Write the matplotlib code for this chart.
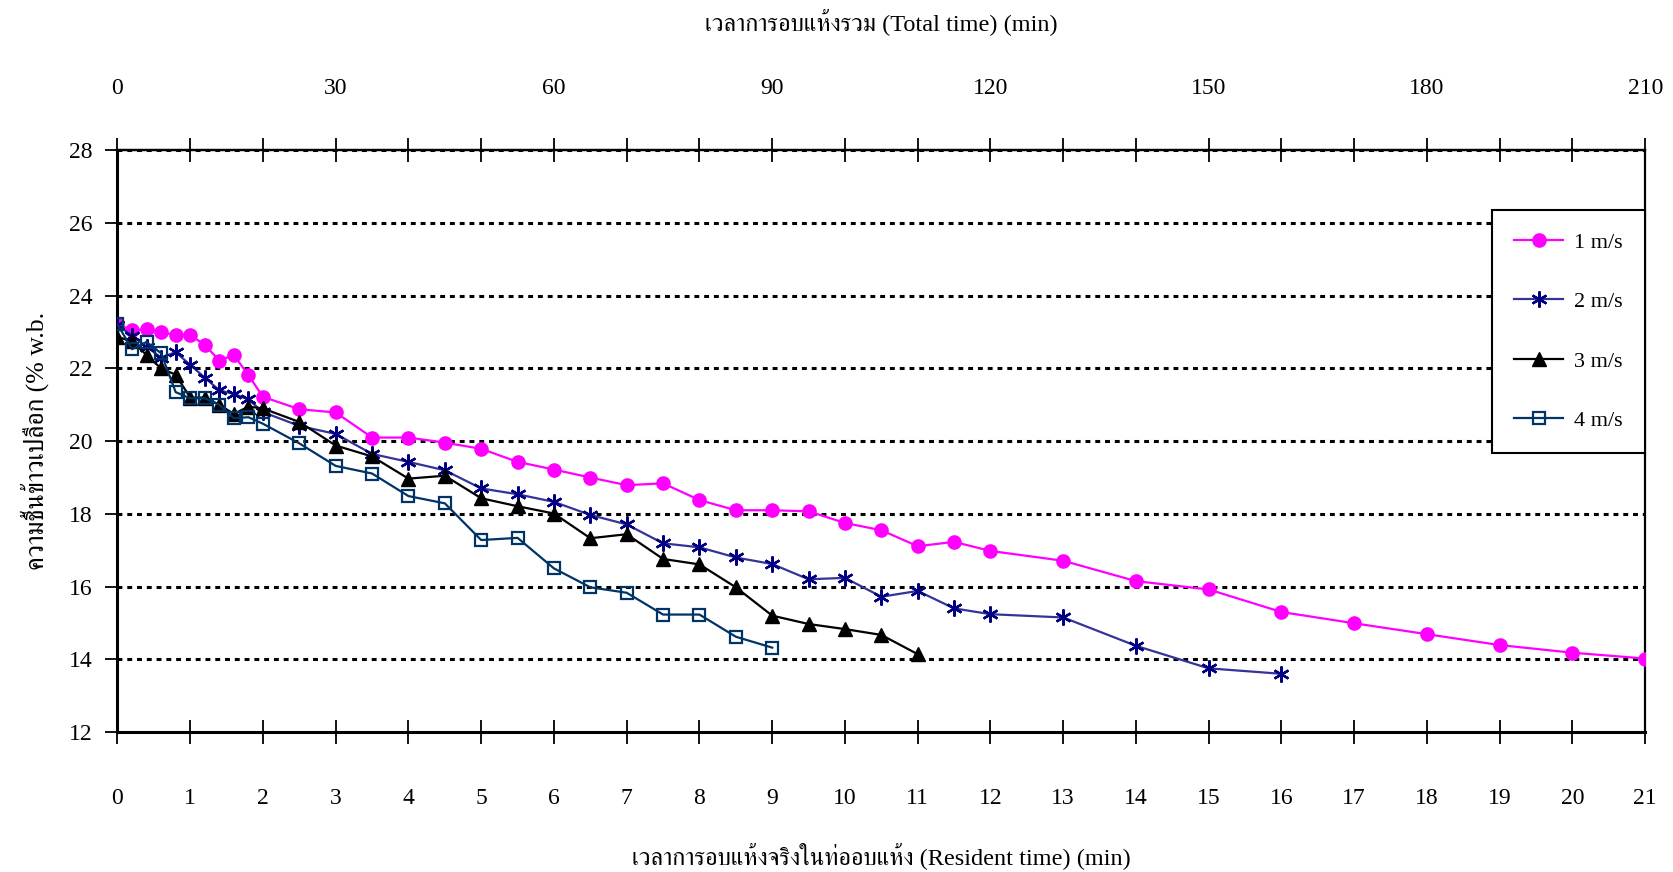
import matplotlib
matplotlib.use("Agg")
import matplotlib.pyplot as plt
from matplotlib import font_manager
from matplotlib.ft2font import FT2Font

# ---- data: grain moisture (% w.b.) vs. resident time in the dryer (min) ----
t_fine = [0, 0.2, 0.4, 0.6, 0.8, 1.0, 1.2, 1.4, 1.6, 1.8, 2.0]
t_half = [2.5, 3, 3.5, 4, 4.5, 5, 5.5, 6, 6.5, 7, 7.5, 8, 8.5, 9,
          9.5, 10, 10.5, 11, 11.5, 12]
t_long = [13, 14, 15, 16, 17, 18, 19, 20, 21]

time_1 = t_fine + t_half + t_long
moist_1 = [23.22, 23.05, 23.08, 23.0, 22.92, 22.92, 22.65, 22.22, 22.37, 21.82, 21.22,
           20.88, 20.79, 20.1, 20.1, 19.96, 19.79, 19.43, 19.22, 19.0, 18.79, 18.84,
           18.38, 18.1, 18.1, 18.07, 17.75, 17.55, 17.11, 17.23, 16.98,
           16.71, 16.15, 15.92, 15.3, 14.99, 14.69, 14.39, 14.18, 14.02]

time_2 = t_fine + t_half + [13, 14, 15, 16]
moist_2 = [23.2, 22.9, 22.6, 22.3, 22.45, 22.1, 21.75, 21.4, 21.3, 21.15, 20.8,
           20.42, 20.2, 19.65, 19.43, 19.2, 18.7, 18.54, 18.33, 17.97, 17.71, 17.19,
           17.08, 16.8, 16.62, 16.2, 16.24, 15.72, 15.88, 15.4, 15.24,
           15.15, 14.37, 13.75, 13.6]

time_3 = t_fine + t_half[:18]
moist_3 = [22.87, 22.75, 22.37, 22.0, 21.83, 21.2, 21.2, 21.0, 20.75, 20.95, 20.9,
           20.53, 19.88, 19.58, 18.97, 19.05, 18.43, 18.21, 18.01, 17.33, 17.44, 16.76,
           16.61, 15.98, 15.2, 14.97, 14.83, 14.67, 14.14]

time_4 = t_fine + t_half[:14]
moist_4 = [23.22, 22.53, 22.73, 22.42, 21.35, 21.18, 21.18, 21.0, 20.63, 20.66, 20.48,
           19.94, 19.32, 19.11, 18.49, 18.29, 17.28, 17.34, 16.5, 15.98, 15.83, 15.23,
           15.23, 14.62, 14.32]

labels = ["1 m/s", "2 m/s", "3 m/s", "4 m/s"]
bottom_ticks = list(range(0, 22))
top_ticks = list(range(0, 211, 30))
y_ticks = list(range(12, 29, 2))

title_top = "เวลาการอบแห้งรวม (Total time) (min)"
title_bottom = "เวลาการอบแห้งจริงในท่ออบแห้ง (Resident time) (min)"
title_y = "ความชื้นข้าวเปลือก (% w.b."


def find_thai_family():
    """Return the name of an installed font that covers Thai script."""
    preferred = []
    others = []
    for fe in font_manager.fontManager.ttflist:
        try:
            cmap = FT2Font(fe.fname).get_charmap()
        except Exception:
            continue
        if 0x0E01 in cmap and 0x0E49 in cmap:
            if any(k in fe.name for k in ("Norasi", "Serif", "Tlwg Typo", "Kinnari")):
                preferred.append(fe.name)
            else:
                others.append(fe.name)
    for group in (preferred, others):
        if group:
            return group[0]
    return None


thai = find_thai_family()
serif = "Liberation Serif"
fam = [serif] + ([thai] if thai else []) + ["DejaVu Sans"]

fig = plt.figure(figsize=(16.73, 8.72), dpi=100)
ax = fig.add_axes([0.0702, 0.1606, 0.9132, 0.6669])

ax.plot(time_1, moist_1, color="#FF00FF", lw=1.6, marker="o", ms=9.5,
        mfc="#FF00FF", mec="#FF00FF", label=labels[0], zorder=3)
ax.plot(time_2, moist_2, color="#333399", lw=1.6, marker=(6, 2, 0), ms=11.5,
        mec="#000080", mew=1.7, label=labels[1], zorder=4)
ax.plot(time_3, moist_3, color="#000000", lw=1.6, marker="^", ms=9.5,
        mfc="#000000", mec="#000000", label=labels[2], zorder=5)
ax.plot(time_4, moist_4, color="#003366", lw=1.6, marker="s", ms=8.5,
        mfc="none", mec="#003366", mew=1.6, label=labels[3], zorder=6)

ax.set_xlim(0, 21)
ax.set_ylim(12, 28)
ax.set_xticks(bottom_ticks)
ax.set_yticks(y_ticks)

for y in y_ticks[1:]:
    ax.axhline(y, color="black", lw=2.2, linestyle=(0, (1.6, 1.6)), zorder=1)

for side in ("left", "bottom"):
    ax.spines[side].set_linewidth(2.2)
for side in ("top", "right"):
    ax.spines[side].set_linewidth(1.6)

ax.tick_params(axis="x", direction="inout", length=17, width=1.3, pad=32,
               labelsize=17)
ax.tick_params(axis="y", direction="out", length=9, width=1.3, pad=9,
               labelsize=17)
for lab in ax.get_xticklabels() + ax.get_yticklabels():
    lab.set_fontfamily(serif)

top = ax.secondary_xaxis("top", functions=(lambda x: x * 10, lambda x: x / 10))
top.set_xticks(top_ticks)
top.set_xticks(list(range(0, 211, 10)), minor=True)
top.tick_params(axis="x", which="major", direction="inout", length=17, width=1.3,
                pad=28.5, labelsize=17)
top.tick_params(axis="x", which="minor", direction="inout", length=17, width=1.3)
top.spines["top"].set_linewidth(1.6)
for lab in top.get_xticklabels():
    lab.set_fontfamily(serif)

top.set_xlabel(title_top, family=fam, fontsize=17.5, labelpad=34)
ax.set_xlabel(title_bottom, family=fam, fontsize=17.5, labelpad=24)
ax.set_ylabel(title_y, family=fam, fontsize=18.5, labelpad=14)

leg = ax.legend(loc="upper right", bbox_to_anchor=(1.0, 0.8975),
                borderaxespad=0, frameon=True, fancybox=False, framealpha=1,
                prop={"family": serif, "size": 16}, handlelength=2.2,
                handletextpad=0.5, labelspacing=1.75, borderpad=1.0)
leg.get_frame().set_edgecolor("black")
leg.get_frame().set_linewidth(1.5)
leg.set_zorder(10)

fig.savefig("out.png", dpi=100, facecolor="white")
